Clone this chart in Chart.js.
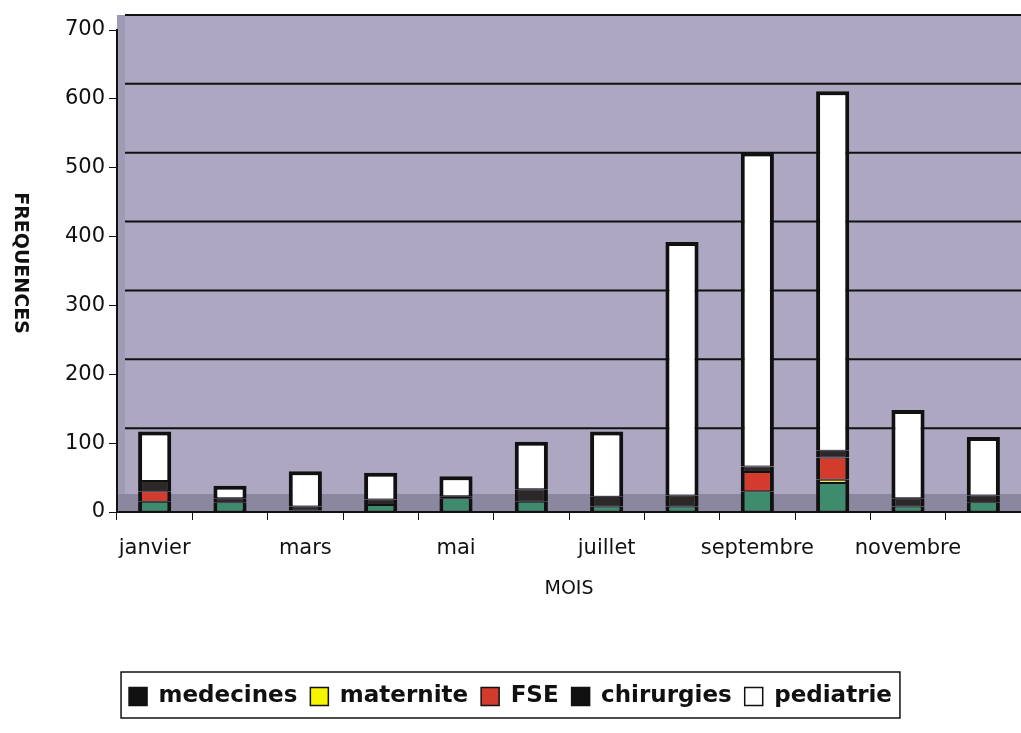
<!DOCTYPE html>
<html>
<head>
<meta charset="utf-8">
<script src="https://cdn.jsdelivr.net/npm/chart.js@4/dist/chart.umd.min.js"></script>
<style>
  html, body { margin: 0; padding: 0; background: #fff; }
  #wrap { width: 1021px; height: 733px; }
</style>
</head>
<body>
<div id="wrap"><canvas id="freqChart"></canvas></div>
<script>
// months (only every other one is labelled on the axis)
const months = ["janvier", "fevrier", "mars", "avril", "mai", "juin", "juillet", "aout", "septembre", "octobre", "novembre", "decembre"];

// values
const medecines  = [15, 14, 2, 10, 20, 15, 8, 8, 30, 42, 8, 14];
const maternite  = [0, 0, 0, 0, 0, 0, 0, 0, 0, 5, 0, 0];
const fse        = [15, 0, 0, 0, 0, 0, 0, 0, 28, 32, 0, 0];
const chirurgies = [15, 6, 6, 8, 3, 18, 14, 16, 8, 10, 12, 10];
const pediatrie  = [72, 18, 51, 39, 29, 69, 95, 368, 456, 522, 128, 85];

const yTicks = [0, 100, 200, 300, 400, 500, 600, 700];

const seriesNames = ["medecines", "maternite", "FSE", "chirurgies", "pediatrie"];
const seriesData = [medecines, maternite, fse, chirurgies, pediatrie];
const seriesColors = ["#3e8b6e", "#f2e25a", "#d33c2c", "#2d2828", "#ffffff"];
const legendSwatches = ["#111111", "#f5f500", "#d33c2c", "#111111", "#ffffff"];

const FONT = "'DejaVu Sans', sans-serif";
const DEPTH = 15; // offset of the back wall

// 3D-ish plot background: back wall, floor and wall gridlines
const wallPlugin = {
  id: 'wall',
  beforeDraw(chart) {
    const { ctx, chartArea } = chart;
    const y = chart.scales.y;
    const top = y.getPixelForValue(yTicks[yTicks.length - 1]) - DEPTH;
    const w = chartArea.right - chartArea.left;
    ctx.save();
    ctx.fillStyle = '#ada7c2';
    ctx.fillRect(chartArea.left, top, w, chartArea.bottom - top);
    ctx.fillStyle = '#8a879f';
    ctx.fillRect(chartArea.left, chartArea.bottom - 18, w, 18);
    ctx.fillStyle = '#9f9ab5';
    ctx.fillRect(chartArea.left, top, 8, chartArea.bottom - top - 18);
    ctx.strokeStyle = '#111';
    ctx.lineWidth = 2;
    yTicks.forEach(v => {
      if (v === 0) return;
      const py = y.getPixelForValue(v) - DEPTH;
      ctx.beginPath();
      ctx.moveTo(chartArea.left + 8, py);
      ctx.lineTo(chartArea.right, py);
      ctx.stroke();
    });
    ctx.restore();
  },
  afterDraw(chart) {
    const { ctx } = chart;
    ctx.save();
    // y title, reading top to bottom
    ctx.translate(20, 263);
    ctx.rotate(Math.PI / 2);
    ctx.font = "bold 19px " + FONT;
    ctx.fillStyle = '#111';
    ctx.textAlign = 'center';
    ctx.textBaseline = 'middle';
    ctx.fillText("FREQUENCES", 0, 0);
    ctx.restore();

    // frame round the legend
    const lg = chart.legend;
    if (lg && lg.legendHitBoxes && lg.legendHitBoxes.length) {
      const boxes = lg.legendHitBoxes;
      const left = Math.min(...boxes.map(b => b.left)) - 8;
      const right = Math.max(...boxes.map(b => b.left + b.width)) + 8;
      ctx.save();
      ctx.strokeStyle = '#111';
      ctx.lineWidth = 1.5;
      ctx.strokeRect(left, lg.top, right - left, lg.height);
      ctx.restore();
    }
  }
};

const datasets = seriesNames.map((name, i) => ({
  label: name,
  // empty segments are left out so they leave no stray border lines
  data: seriesData[i].map(v => (v === 0 ? null : v)),
  backgroundColor: seriesColors[i],
  borderColor: '#111',
  borderWidth: { left: 4, right: 4, top: i === seriesNames.length - 1 ? 4 : 1, bottom: 1 },
  borderSkipped: false,
  barPercentage: 0.44,
  categoryPercentage: 1.0
}));

new Chart(document.getElementById('freqChart'), {
  type: 'bar',
  data: { labels: months, datasets: datasets },
  options: {
    responsive: true,
    maintainAspectRatio: false,
    animation: false,
    layout: { padding: { top: 30, bottom: 15, left: 0, right: 0 } },
    plugins: {
      tooltip: { enabled: false },
      legend: {
        position: 'bottom',
        labels: {
          color: '#111',
          font: { family: FONT, size: 23, weight: 'bold' },
          boxWidth: 18,
          boxHeight: 18,
          padding: 13,
          generateLabels(chart) {
            const items = Chart.defaults.plugins.legend.labels.generateLabels(chart);
            items.forEach((it, i) => {
              it.fillStyle = legendSwatches[i];
              it.strokeStyle = '#111';
              it.lineWidth = 1.5;
            });
            return items;
          }
        }
      }
    },
    scales: {
      x: {
        stacked: true,
        grid: { display: true, drawOnChartArea: false, color: '#111', tickLength: 8, offset: true },
        border: { display: true, color: '#111', width: 2 },
        ticks: {
          autoSkip: false,
          maxRotation: 0,
          padding: 16,
          color: '#111',
          font: { family: FONT, size: 21 },
          callback: function (val, i) { return i % 2 === 0 ? this.getLabelForValue(val) : ''; }
        },
        title: {
          display: true,
          text: 'MOIS',
          color: '#111',
          font: { family: FONT, size: 19 },
          padding: { top: 0, bottom: 72 }
        }
      },
      y: {
        stacked: true,
        min: 0,
        max: 700,
        afterFit: (scale) => { scale.width = 117; },
        grid: { display: true, drawOnChartArea: false, color: '#111', tickLength: 8 },
        border: { display: true, color: '#111', width: 2 },
        ticks: {
          stepSize: 100,
          padding: 4,
          color: '#111',
          font: { family: FONT, size: 21 }
        }
      }
    }
  },
  plugins: [wallPlugin]
});
</script>
</body>
</html>
